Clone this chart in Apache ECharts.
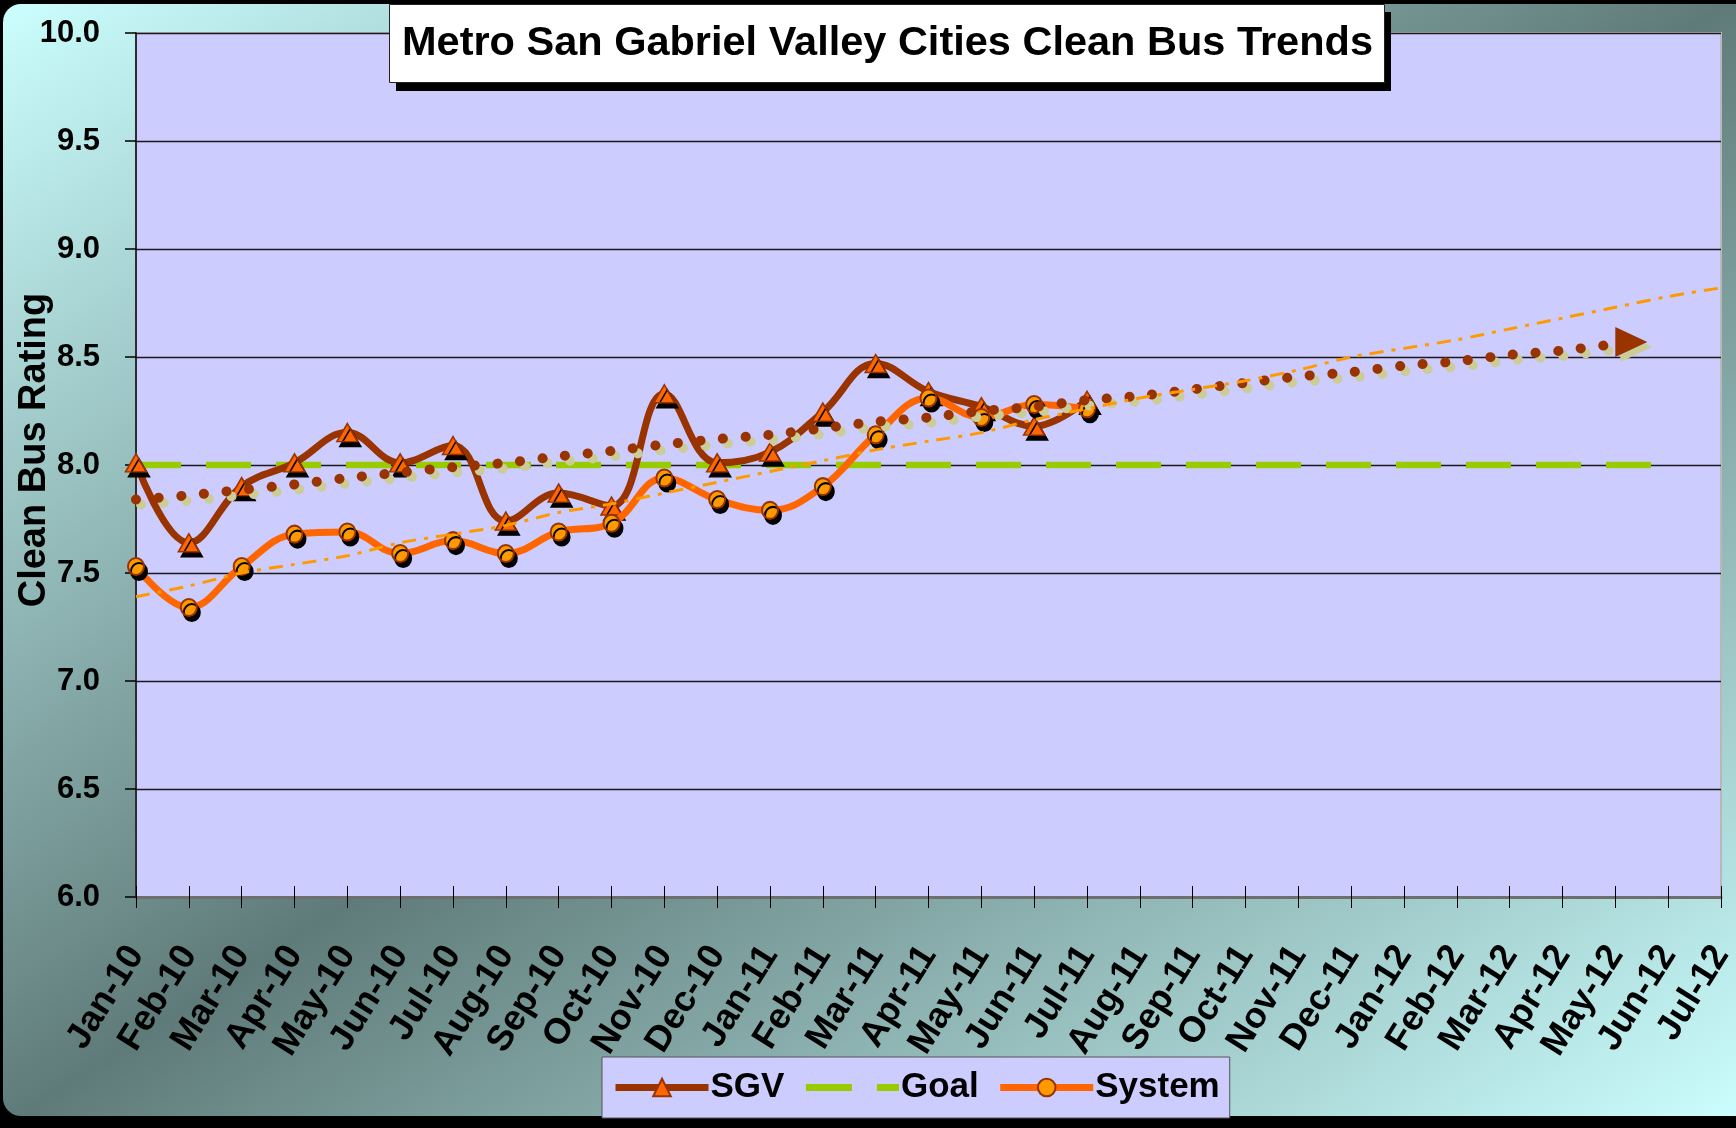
<!DOCTYPE html>
<html>
<head>
<meta charset="utf-8">
<script src="https://cdn.jsdelivr.net/npm/echarts@6/dist/echarts.min.js"></script>
<style>html,body{margin:0;padding:0;background:#000;}#c{width:1736px;height:1128px;}</style>
</head>
<body>
<div id="c"></div>
<script>
const categories = ['Jan-10','Feb-10','Mar-10','Apr-10','May-10','Jun-10','Jul-10','Aug-10','Sep-10','Oct-10','Nov-10','Dec-10',
  'Jan-11','Feb-11','Mar-11','Apr-11','May-11','Jun-11','Jul-11','Aug-11','Sep-11','Oct-11','Nov-11','Dec-11',
  'Jan-12','Feb-12','Mar-12','Apr-12','May-12','Jun-12','Jul-12'];
const sgv = [8.01, 7.64, 7.90, 8.01, 8.15, 8.01, 8.09, 7.74, 7.87, 7.81, 8.33, 8.01, 8.06, 8.245, 8.47, 8.34, 8.27, 8.18, 8.30];
const system = [7.53, 7.34, 7.53, 7.68, 7.69, 7.59, 7.65, 7.59, 7.69, 7.73, 7.94, 7.84, 7.79, 7.90, 8.14, 8.31, 8.22, 8.28, 8.26];
const goal = [8.0, 8.0, 8.0, 8.0, 8.0, 8.0, 8.0, 8.0, 8.0, 8.0, 8.0, 8.0, 8.0, 8.0, 8.0, 8.0, 8.0, 8.0, 8.0, 8.0,
  8.0, 8.0, 8.0, 8.0, 8.0, 8.0, 8.0, 8.0, 8.0, 8.0];
const sgvTrend = [7.84, 7.86, 7.885, 7.91, 7.94, 7.965, 7.99, 8.01, 8.04, 8.065, 8.095, 8.12, 8.14, 8.17, 8.20, 8.22,
  8.25, 8.27, 8.30, 8.32, 8.35, 8.38, 8.41, 8.43, 8.46, 8.48, 8.51, 8.53, 8.56];
const systemTrend = [7.39, 7.44, 7.50, 7.54, 7.58, 7.64, 7.68, 7.72, 7.78, 7.82, 7.87, 7.92, 7.97, 8.02, 8.07, 8.11,
  8.15, 8.21, 8.26, 8.31, 8.35, 8.39, 8.44, 8.50, 8.54, 8.58, 8.63, 8.68, 8.73, 8.78, 8.82];
const yTicks = { min: 6.0, max: 10.0, step: 0.5 };

const chart = echarts.init(document.getElementById('c'), null, { renderer: 'canvas' });
const FONT = "'Liberation Sans', Arial, sans-serif";
const bgGrad = new echarts.graphic.LinearGradient(352, -229, 1384, 1357, [
  { offset: 0, color: '#CCFFFF' },
  { offset: 0.5, color: '#5F7B79' },
  { offset: 1, color: '#CCFFFF' }
], true);

const markerShadow = { shadowColor: '#000', shadowOffsetX: 3, shadowOffsetY: 5, shadowBlur: 0 };

const option = {
  animation: false,
  backgroundColor: '#000',
  graphic: [{
    type: 'rect', z: -10, silent: true,
    shape: { x: 3, y: 4, width: 1733, height: 1112, r: [18, 0, 0, 18] },
    style: { fill: bgGrad }
  }, {
    type: 'rect', z: 1, silent: true,
    shape: { x: 396, y: 12, width: 995, height: 79 },
    style: { fill: '#000' }
  }],
  title: {
    text: 'Metro San Gabriel Valley Cities Clean Bus Trends',
    left: 389, top: 4, z: 10,
    padding: [19, 12, 18, 13],
    backgroundColor: '#fff', borderColor: '#222', borderWidth: 1,
    textStyle: { fontFamily: FONT, fontWeight: 'bold', fontSize: 41.5, color: '#000' }
  },
  legend: {
    data: [
      { name: 'SGV', lineStyle: { width: 7 } },
      { name: 'Goal', itemStyle: { opacity: 0 }, lineStyle: { width: 7, type: [46, 25] } },
      { name: 'System', lineStyle: { width: 7 } }
    ],
    left: 602, top: 1057,
    padding: [13, 10, 13, 10],
    itemWidth: 93, itemHeight: 22, itemGap: 18,
    backgroundColor: '#CCCCFF', borderColor: '#555', borderWidth: 1,
    textStyle: { fontFamily: FONT, fontWeight: 'bold', fontSize: 35, color: '#000', padding: [0, 0, 0, -3] }
  },
  grid: { left: 136, right: 15, top: 33, bottom: 231, outerBoundsMode: 'none', show: true,
    backgroundColor: '#CCCCFF', borderColor: '#B8B8B8', borderWidth: 2 },
  xAxis: [{
    type: 'category', data: categories, boundaryGap: false,
    axisLine: { lineStyle: { color: '#6E6E6E', width: 3 } },
    axisTick: { interval: 0, length: 11, lineStyle: { color: '#000', width: 1 } },
    axisLabel: { interval: 0, rotate: 58, margin: 52, fontFamily: FONT, fontWeight: 'bold', fontSize: 36, color: '#000' },
    splitLine: { show: false }
  }, {
    type: 'category', data: categories, boundaryGap: false, position: 'bottom',
    axisLine: { show: false },
    axisTick: { interval: 0, inside: true, length: 11, lineStyle: { color: '#000', width: 1 } },
    axisLabel: { show: false }, splitLine: { show: false }
  }],
  yAxis: {
    type: 'value', min: yTicks.min, max: yTicks.max, interval: yTicks.step,
    name: 'Clean Bus Rating', nameLocation: 'middle', nameGap: 82, nameRotate: 90, nameMoveOverlap: false,
    nameTextStyle: { fontFamily: FONT, fontWeight: 'bold', fontSize: 38, color: '#000', padding: [0, 0, 0, 30] },
    axisLine: { show: true, lineStyle: { color: '#000', width: 1.5 } },
    axisTick: { show: true, length: 11, lineStyle: { color: '#000', width: 1.5 } },
    axisLabel: { margin: 36, fontFamily: FONT, fontWeight: 'bold', fontSize: 31, color: '#000', formatter: v => v.toFixed(1) },
    splitLine: { lineStyle: { color: '#1A1A1A', width: 1.3 } }
  },
  series: [{
    name: 'Goal', type: 'line', data: goal, z: 2,
    showSymbol: false, symbol: 'none',
    lineStyle: { color: '#99CC00', width: 6.5, type: [45, 25], cap: 'butt' },
    itemStyle: { color: '#99CC00' }
  }, {
    name: 'SGV', type: 'line', data: sgv, z: 3, smooth: 0.4,
    symbol: 'triangle', symbolSize: [21, 18],
    lineStyle: { color: '#993300', width: 7 },
    itemStyle: Object.assign({ color: '#FF6600', borderColor: '#993300', borderWidth: 1.5 }, markerShadow)
  }, {
    name: 'System', type: 'line', data: system, z: 4, smooth: 0.4,
    symbol: 'circle', symbolSize: [16, 17],
    lineStyle: { color: '#FF6600', width: 7 },
    itemStyle: Object.assign({ color: '#FF9900', borderColor: '#993300', borderWidth: 2 }, markerShadow)
  }, {
    name: 'SGV trend', type: 'line', data: sgvTrend, z: 5, smooth: 0.3,
    showSymbol: false, symbol: 'none',
    lineStyle: { color: '#993300', width: 10, type: [0.1, 22.6], cap: 'round',
      shadowColor: '#CCCC99', shadowOffsetX: 5, shadowOffsetY: 5, shadowBlur: 0 },
    markPoint: {
      silent: true,
      symbol: 'path://M0,0L10,4.5L0,9Z', symbolSize: [32, 30], symbolOffset: [16, -2],
      itemStyle: { color: '#993300', shadowColor: '#CCCC99', shadowOffsetX: 5, shadowOffsetY: 5, shadowBlur: 0 },
      label: { show: false },
      data: [{ coord: [categories[sgvTrend.length - 1], sgvTrend[sgvTrend.length - 1]] }]
    }
  }, {
    name: 'System trend', type: 'line', data: systemTrend, z: 6, smooth: 0.3,
    showSymbol: false, symbol: 'none',
    lineStyle: { color: '#FF9900', width: 3, type: [14, 8, 4, 8] }
  }]
};
chart.setOption(option);
</script>
</body>
</html>
